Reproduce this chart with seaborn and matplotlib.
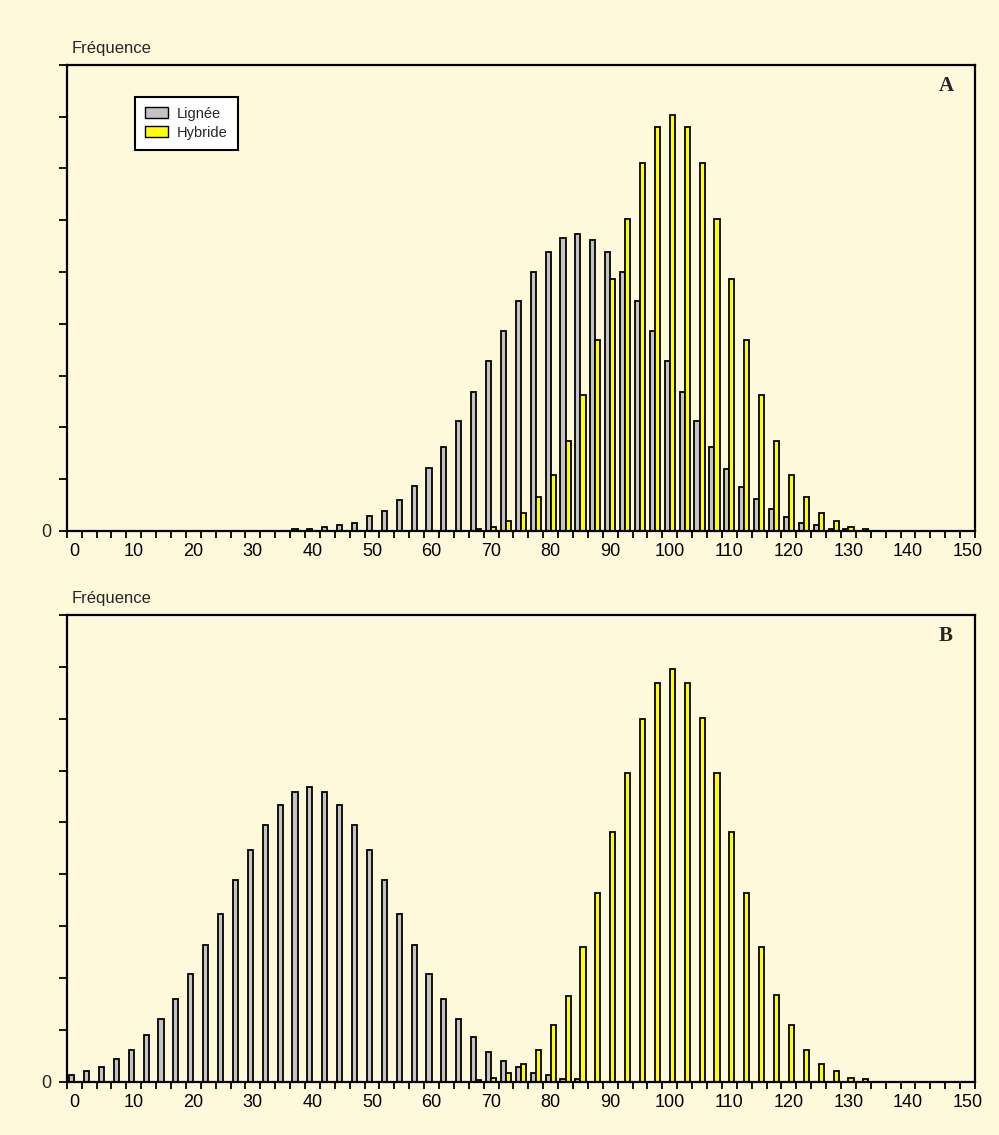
import numpy as np
import pandas as pd
import matplotlib
matplotlib.use("Agg")
import matplotlib.pyplot as plt
from matplotlib.patches import Patch
import seaborn as sns

# ---------------------------------------------------------------
# Panel A : lignée vs hybride (distributions proches)
lignee_a_x = [37.5, 40, 42.5, 45, 47.5, 50, 52.5, 55, 57.5, 60, 62.5, 65, 67.5,
              70, 72.5, 75, 77.5, 80, 82.5, 85, 87.5, 90, 92.5, 95, 97.5, 100,
              102.5, 105, 107.5, 110, 112.5, 115, 117.5, 120, 122.5, 125, 127.5, 130]
lignee_a_y = [0.4, 0.4, 0.8, 1.2, 1.6, 2.8, 3.9, 5.9, 8.6, 12.1, 16.2, 21.3, 26.8,
              32.9, 38.7, 44.5, 50.0, 53.8, 56.5, 57.3, 56.2, 53.8, 50.0, 44.5, 38.7, 32.9,
              26.8, 21.3, 16.3, 12.0, 8.5, 6.2, 4.2, 2.6, 1.5, 1.2, 0.3, 0.4]

hybride_a_x = [67.5, 70, 72.5, 75, 77.5, 80, 82.5, 85, 87.5, 90, 92.5, 95, 97.5,
               100, 102.5, 105, 107.5, 110, 112.5, 115, 117.5, 120, 122.5, 125,
               127.5, 130, 132.5]
hybride_a_y = [0.3, 0.7, 1.9, 3.5, 6.6, 10.8, 17.4, 26.3, 36.8, 48.7, 60.3, 71.0, 78.0,
               80.3, 78.0, 71.0, 60.3, 48.7, 36.8, 26.3, 17.4, 10.8, 6.5, 3.4,
               1.9, 0.8, 0.4]

# Panel B : lignée très éloignée de l'hybride
lignee_b_x = [0, 2.5, 5, 7.5, 10, 12.5, 15, 17.5, 20, 22.5, 25, 27.5, 30, 32.5, 35,
              37.5, 40, 42.5, 45, 47.5, 50, 52.5, 55, 57.5, 60, 62.5, 65, 67.5, 70,
              72.5, 75, 77.5, 80, 82.5, 85]
lignee_b_y = [1.2, 2.1, 2.8, 4.3, 6.2, 9.0, 12.0, 16.0, 20.8, 26.3, 32.3, 38.9, 44.7, 49.4, 53.4,
              55.9, 56.8, 55.9, 53.4, 49.4, 44.7, 38.9, 32.3, 26.3, 20.8, 16.0, 12.0, 8.6, 5.8,
              3.9, 2.8, 1.6, 1.2, 0.5, 0.5]

hybride_b_x = [67.5, 70, 72.5, 75, 77.5, 80, 82.5, 85, 87.5, 90, 92.5, 95, 97.5,
               100, 102.5, 105, 107.5, 110, 112.5, 115, 117.5, 120, 122.5, 125,
               127.5, 130, 132.5]
hybride_b_y = [0.3, 0.8, 1.6, 3.5, 6.2, 10.9, 16.5, 26.0, 36.3, 48.2, 59.5, 69.9, 76.8,
               79.5, 76.8, 70.2, 59.5, 48.2, 36.3, 26.0, 16.7, 10.9, 6.2, 3.5,
               2.1, 0.8, 0.5]

x_labels = [0, 10, 20, 30, 40, 50, 60, 70, 80, 90, 100, 110, 120, 130, 140, 150]

bg = '#fff9dc'
colors = {'Lignée': '#c4c4c4', 'Hybride': '#ffff00'}


def make_df(xl, yl, xh, yh):
    d1 = pd.DataFrame({'classe': xl, 'freq': yl, 'type': 'Lignée'})
    d2 = pd.DataFrame({'classe': xh, 'freq': yh, 'type': 'Hybride'})
    return pd.concat([d1, d2], ignore_index=True)


df_a = make_df(lignee_a_x, lignee_a_y, hybride_a_x, hybride_a_y)
df_b = make_df(lignee_b_x, lignee_b_y, hybride_b_x, hybride_b_y)

sns.set_style('ticks')
plt.rcParams['font.family'] = ['Liberation Sans', 'DejaVu Sans']

fig = plt.figure(figsize=(9.99, 11.35), dpi=100, facecolor=bg)
ax_a = fig.add_axes([0.0668, 0.5322, 0.9092, 0.4106])
ax_b = fig.add_axes([0.0668, 0.0470, 0.9092, 0.4112])

for ax, df, letter in [(ax_a, df_a, 'A'), (ax_b, df_b, 'B')]:
    sns.barplot(data=df, x='classe', y='freq', hue='type',
                hue_order=['Lignée', 'Hybride'], palette=colors,
                native_scale=True, width=0.68, dodge=True, errorbar=None,
                saturation=1, edgecolor='black', linewidth=1.3,
                legend=False, ax=ax)
    ax.set_facecolor(bg)
    ax.set_xlim(-1.25, 151.25)
    ax.set_ylim(0, 90)
    ax.set_xlabel('')
    ax.set_ylabel('')
    ax.set_xticks(x_labels)
    ax.set_xticklabels([str(v) for v in x_labels], fontsize=13)
    ax.set_xticks(np.arange(-1.25, 151.3, 2.5), minor=True)
    ax.tick_params(axis='x', which='major', length=0, pad=9, colors='black')
    ax.tick_params(axis='x', which='minor', length=5, width=1.3, direction='out', color='black')
    ax.set_yticks(range(0, 91, 10))
    ax.set_yticklabels(['0'] + [''] * 9, fontsize=13)
    ax.tick_params(axis='y', length=6, width=1.3, pad=5, color='black')
    for sp in ax.spines.values():
        sp.set_visible(True)
        sp.set_color('black')
        sp.set_linewidth(1.6)
    ax.text(0.968, 0.955, letter, transform=ax.transAxes, ha='center', va='center',
            fontsize=15, fontweight='bold', family=['Liberation Serif', 'DejaVu Serif'])

fig.text(0.072, 1 - 48 / 1135, 'Fréquence', ha='left', va='center', fontsize=12)
fig.text(0.072, 1 - 599 / 1135, 'Fréquence', ha='left', va='center', fontsize=12)

handles = [Patch(facecolor=colors['Lignée'], edgecolor='black', label='Lignée'),
           Patch(facecolor=colors['Hybride'], edgecolor='black', label='Hybride')]
leg = ax_a.legend(handles=handles, loc='upper left', bbox_to_anchor=(0.075, 0.932),
                  borderaxespad=0, frameon=True, fancybox=False, edgecolor='black',
                  facecolor='white', framealpha=1, fontsize=10.5, handlelength=1.6,
                  handleheight=0.8, borderpad=0.7, labelspacing=0.35, handletextpad=0.6)
leg.get_frame().set_linewidth(1.5)

fig.savefig('out.png', dpi=100, facecolor=bg)
